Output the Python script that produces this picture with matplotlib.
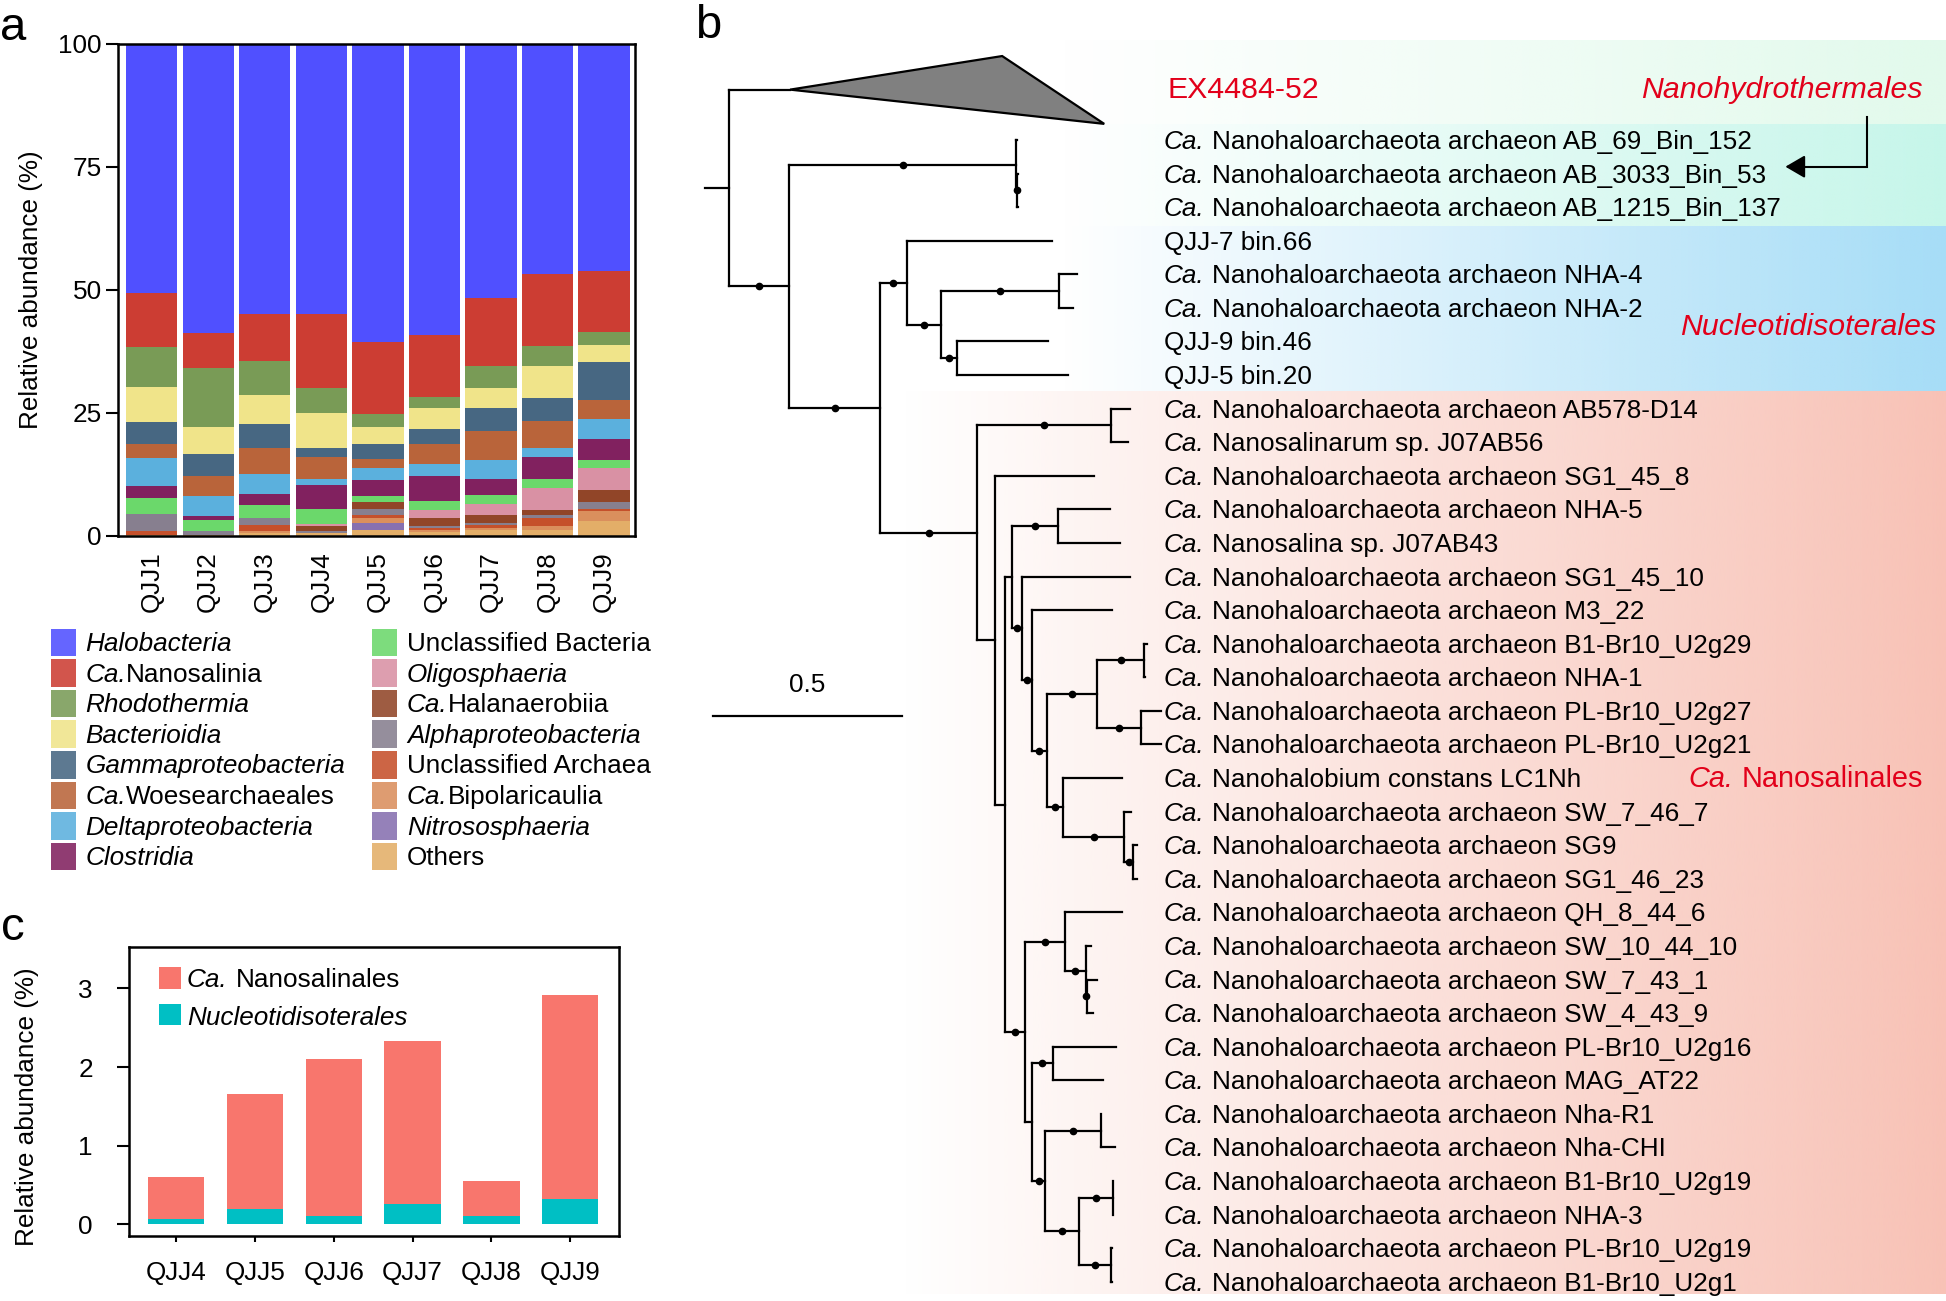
import re
import numpy as np
import matplotlib
matplotlib.use("Agg")
import matplotlib.pyplot as plt
from matplotlib.collections import LineCollection
from matplotlib.patches import Polygon, Rectangle
from matplotlib.colors import to_rgb

plt.rcParams['font.family'] = ['Liberation Sans', 'DejaVu Sans']

# ---------------------------------------------------------------- panel a data
samples_a = ["QJJ1", "QJJ2", "QJJ3", "QJJ4", "QJJ5", "QJJ6", "QJJ7", "QJJ8", "QJJ9"]
halobacteria        = [50.6, 58.9, 55.0, 54.9, 60.7, 59.3, 51.6, 46.8, 46.3]
nanosalinia         = [11.0, 7.1, 9.5, 15.1, 14.6, 12.6, 13.9, 14.6, 12.4]
rhodothermia        = [8.3, 11.9, 6.9, 4.9, 2.6, 2.1, 4.5, 4.1, 2.6]
bacterioidia        = [7.0, 5.5, 5.9, 7.1, 3.5, 4.3, 3.9, 6.6, 3.4]
gammaproteobacteria = [4.4, 4.5, 4.9, 2.0, 3.0, 3.1, 4.7, 4.6, 7.8]
woesearchaeales     = [3.0, 4.0, 5.3, 4.4, 1.9, 4.0, 6.0, 5.5, 3.8]
deltaproteobacteria = [5.6, 4.2, 4.1, 1.3, 2.4, 2.5, 3.8, 1.9, 4.0]
clostridia          = [2.5, 0.7, 2.1, 4.7, 3.2, 5.0, 3.3, 4.3, 4.3]
uncl_bacteria       = [3.2, 2.2, 2.7, 3.2, 1.3, 1.9, 1.7, 2.0, 1.7]
oligosphaeria       = [0.0, 0.0, 0.0, 0.4, 0.0, 1.6, 2.4, 4.4, 4.5]
halanaerobiia       = [0.0, 0.0, 0.0, 1.0, 1.4, 1.6, 1.6, 1.0, 2.4]
alphaproteobacteria = [3.4, 0.8, 1.4, 0.4, 1.3, 0.4, 0.4, 0.6, 1.3]
uncl_archaea        = [0.8, 0.0, 1.2, 0.0, 0.6, 0.4, 0.5, 1.6, 0.5]
bipolaricaulia      = [0.0, 0.0, 0.5, 0.0, 1.0, 0.5, 0.5, 0.8, 2.0]
nitrososphaeria     = [0.0, 0.0, 0.0, 0.0, 1.3, 0.0, 0.0, 0.0, 0.0]
others              = [0.2, 0.2, 0.5, 0.5, 1.2, 0.7, 1.1, 1.2, 3.0]

taxa = ["Halobacteria", "Ca.Nanosalinia", "Rhodothermia", "Bacterioidia",
        "Gammaproteobacteria", "Ca.Woesearchaeales", "Deltaproteobacteria", "Clostridia",
        "Unclassified Bacteria", "Oligosphaeria", "Ca.Halanaerobiia", "Alphaproteobacteria",
        "Unclassified Archaea", "Ca.Bipolaricaulia", "Nitrososphaeria", "Others"]
taxa_values = [halobacteria, nanosalinia, rhodothermia, bacterioidia,
               gammaproteobacteria, woesearchaeales, deltaproteobacteria, clostridia,
               uncl_bacteria, oligosphaeria, halanaerobiia, alphaproteobacteria,
               uncl_archaea, bipolaricaulia, nitrososphaeria, others]
taxa_colors = ["#5050FF", "#CC3D33", "#799B56", "#F0E48A",
               "#476782", "#B9643A", "#5BB0DD", "#81215F",
               "#6BD86B", "#D991A4", "#914528", "#877F8F",
               "#C5502B", "#DA8F5D", "#8770B0", "#E3AE68"]
upright_taxa = ["Unclassified Bacteria", "Unclassified Archaea", "Others"]

# ---------------------------------------------------------------- panel c data
samples_c = ["QJJ4", "QJJ5", "QJJ6", "QJJ7", "QJJ8", "QJJ9"]
nanosalinales = [0.53, 1.47, 1.99, 2.07, 0.44, 2.60]
nucleotidisoterales = [0.07, 0.19, 0.11, 0.26, 0.11, 0.32]

# ---------------------------------------------------------------- panel b data
tip_labels = [
    "Ca. Nanohaloarchaeota archaeon AB_69_Bin_152",
    "Ca. Nanohaloarchaeota archaeon AB_3033_Bin_53",
    "Ca. Nanohaloarchaeota archaeon AB_1215_Bin_137",
    "QJJ-7 bin.66",
    "Ca. Nanohaloarchaeota archaeon NHA-4",
    "Ca. Nanohaloarchaeota archaeon NHA-2",
    "QJJ-9 bin.46",
    "QJJ-5 bin.20",
    "Ca. Nanohaloarchaeota archaeon AB578-D14",
    "Ca. Nanosalinarum sp. J07AB56",
    "Ca. Nanohaloarchaeota archaeon SG1_45_8",
    "Ca. Nanohaloarchaeota archaeon NHA-5",
    "Ca. Nanosalina sp. J07AB43",
    "Ca. Nanohaloarchaeota archaeon SG1_45_10",
    "Ca. Nanohaloarchaeota archaeon M3_22",
    "Ca. Nanohaloarchaeota archaeon B1-Br10_U2g29",
    "Ca. Nanohaloarchaeota archaeon NHA-1",
    "Ca. Nanohaloarchaeota archaeon PL-Br10_U2g27",
    "Ca. Nanohaloarchaeota archaeon PL-Br10_U2g21",
    "Ca. Nanohalobium constans LC1Nh",
    "Ca. Nanohaloarchaeota archaeon SW_7_46_7",
    "Ca. Nanohaloarchaeota archaeon SG9",
    "Ca. Nanohaloarchaeota archaeon SG1_46_23",
    "Ca. Nanohaloarchaeota archaeon QH_8_44_6",
    "Ca. Nanohaloarchaeota archaeon SW_10_44_10",
    "Ca. Nanohaloarchaeota archaeon SW_7_43_1",
    "Ca. Nanohaloarchaeota archaeon SW_4_43_9",
    "Ca. Nanohaloarchaeota archaeon PL-Br10_U2g16",
    "Ca. Nanohaloarchaeota archaeon MAG_AT22",
    "Ca. Nanohaloarchaeota archaeon Nha-R1",
    "Ca. Nanohaloarchaeota archaeon Nha-CHI",
    "Ca. Nanohaloarchaeota archaeon B1-Br10_U2g19",
    "Ca. Nanohaloarchaeota archaeon NHA-3",
    "Ca. Nanohaloarchaeota archaeon PL-Br10_U2g19",
    "Ca. Nanohaloarchaeota archaeon B1-Br10_U2g1",
]
# tips are indices into tip_labels, "EX" is the collapsed EX4484-52 clade, "*" = supported node
tree_newick = (
    "(EX:0.161,"
    "((0:0.001,(1:0.001,2:0.001)*:0.003)*:0.598,"
    "((3:0.384,((4:0.047,5:0.037)*:0.310,(6:0.242,7:0.293)*:0.041)*:0.091)*:0.070,"
    "((8:0.051,9:0.046)*:0.352,"
    "(10:0.262,"
    "(((11:0.138,12:0.164)*:0.121,"
    "(13:0.284,(14:0.210,"
    "(((15:0.006,16:0.001)*:0.126,(17:0.053,18:0.053)*:0.117)*:0.132,"
    "(19:0.156,(20:0.018,(21:0.011,22:0.011)*:0.022)*:0.161)*:0.044)*:0.038"
    ")*:0.027)*:0.026):0.019,"
    "((23:0.151,(24:0.013,(25:0.026,26:0.017)*:0.003)*:0.055)*:0.105,"
    "((27:0.166,28:0.132)*:0.054,"
    "((29:0.001,30:0.037)*:0.147,((31:0.001,32:0.001)*:0.089,(33:0.001,34:0.001)*:0.086)*:0.089)*:0.034"
    "):0.019)*:0.053"
    "):0.026):0.047)*:0.256)*:0.239)*:0.159):0.0625;"
)
collapsed_depths = (0.559, 0.828)   # shallowest / deepest extent of EX4484-52
scale_bar_length = 0.5

# ---------------------------------------------------------------- figure
W, H, DPI = 1946, 1301, 100
FS = 18.8
RED = "#E2001A"
fig = plt.figure(figsize=(W / DPI, H / DPI), dpi=DPI)


def mixed(ax, x, y, parts, size, color='black'):
    first = ax.text(x, y, parts[0][0], fontsize=size, color=color,
                    fontstyle='italic' if parts[0][1] else 'normal',
                    ha='left', va='baseline')
    prev = first
    for txt, it, gap in parts[1:]:
        prev = ax.annotate(txt, xy=(1, 0), xycoords=prev, xytext=(gap * size, 0),
                           textcoords='offset points', fontsize=size, color=color,
                           fontstyle='italic' if it else 'normal',
                           ha='left', va='bottom')
    return first


def label_parts(name):
    if name.startswith("Ca. "):
        return [("Ca.", True, 0), (name[4:], False, 0.3)]
    if name.startswith("Ca."):
        return [("Ca.", True, 0), (name[3:], False, 0.0)]
    return [(name, False, 0)]


def hgrad(ax, x0, x1, y0, y1, color):
    rgb = to_rgb(color)
    arr = np.zeros((1, 256, 4))
    arr[..., 0], arr[..., 1], arr[..., 2] = rgb
    arr[..., 3] = np.linspace(0.0, 1.0, 256)
    ax.imshow(arr, extent=[x0, x1, y1, y0], aspect='auto',
              interpolation='bilinear', zorder=0)


# ---------------------------------------------------------------- panel a
axa = fig.add_axes([117.8 / W, 1 - 535.6 / H, (635 - 117.8) / W, (535.6 - 43.5) / H])
xa = np.arange(len(samples_a))
bottom = np.zeros(len(samples_a))
for vals, col in zip(taxa_values[::-1], taxa_colors[::-1]):
    vals = np.asarray(vals, float)
    axa.bar(xa, vals, 0.91, bottom=bottom, color=col, linewidth=0)
    bottom += vals
axa.set_xlim(-0.6, 8.55)
axa.set_ylim(0, 100)
axa.set_yticks([0, 25, 50, 75, 100])
axa.set_xticks(xa)
axa.set_xticklabels(samples_a, rotation=90)
axa.tick_params(axis='x', length=0, pad=11, labelsize=FS)
axa.tick_params(axis='y', length=8.5, width=1.5, pad=3, labelsize=FS)
axa.set_ylabel("Relative abundance (%)", fontsize=FS)
axa.yaxis.set_label_coords(-0.145, 0.5)
for sp in axa.spines.values():
    sp.set_linewidth(1.8)

# ---------------------------------------------------------------- panel c
axc = fig.add_axes([129 / W, 1 - 1235.7 / H, (619 - 129) / W, (1235.7 - 946.7) / H])
xc = np.arange(len(samples_c))
axc.bar(xc, nucleotidisoterales, 0.715, color="#00BFC4", linewidth=0)
axc.bar(xc, nanosalinales, 0.715, bottom=nucleotidisoterales, color="#F8766D", linewidth=0)
axc.set_xlim(-0.6, 5.62)
axc.set_ylim(-0.145, 3.53)
axc.set_yticks([0, 1, 2, 3])
axc.set_xticks(xc)
axc.set_xticklabels(samples_c)
axc.tick_params(axis='y', length=9, width=1.5, pad=17, labelsize=FS)
axc.tick_params(axis='x', length=4.3, width=1.5, pad=14, labelsize=FS)
axc.set_ylabel("Relative abundance (%)", fontsize=FS)
axc.yaxis.set_label_coords(-0.183, 0.446)
for sp in axc.spines.values():
    sp.set_linewidth(1.8)

# ---------------------------------------------------------------- overlay (pixel coords, on top)
ov = fig.add_axes([0, 0, 1, 1])
ov.set_zorder(10)
ov.set_xlim(0, W)
ov.set_ylim(H, 0)
ov.axis('off')

# background bands of panel b
hgrad(ov, 1060, W, 40, 124, "#E2FAEC")
hgrad(ov, 1060, W, 124, 226, "#C6F6EA")
hgrad(ov, 1060, W, 226, 391, "#A6DDF7")
hgrad(ov, 900, W, 391, 1294, "#F8C2B6")

# legend of panel a
col_x = [(50.7, 85.4), (372.0, 406.8)]
for i, (name, col) in enumerate(zip(taxa, taxa_colors)):
    c, r = divmod(i, 8)
    sx, tx = col_x[c]
    cy = 642.3 + r * 30.6
    ov.add_patch(Rectangle((sx, cy - 13.8), 25, 27.6, facecolor=col, edgecolor='none', alpha=0.88))
    if name in upright_taxa:
        parts = [(name, False, 0)]
    elif name.startswith("Ca."):
        parts = label_parts(name)
    else:
        parts = [(name, True, 0)]
    mixed(ov, tx, cy + 8.7, parts, FS)

# legend of panel c
ov.add_patch(Rectangle((159, 967), 21.5, 21.5, facecolor="#F8766D", edgecolor='none'))
ov.add_patch(Rectangle((159, 1003.5), 21.5, 21.5, facecolor="#00BFC4", edgecolor='none'))
mixed(ov, 187, 986.7, [("Ca.", True, 0), ("Nanosalinales", False, 0.3)], FS)
mixed(ov, 187, 1025, [("Nucleotidisoterales", True, 0)], FS)


# ---------------------------------------------------------------- panel b (tree)
def parse_newick(s):
    s = re.sub(r"\s+", "", s).rstrip(";")
    pos = 0

    def node():
        nonlocal pos
        n = {'children': [], 'name': '', 'length': 0.0}
        if s[pos] == '(':
            pos += 1
            while True:
                n['children'].append(node())
                if s[pos] == ',':
                    pos += 1
                    continue
                pos += 1  # ')'
                break
        m = re.match(r"[^:,();]*", s[pos:])
        n['name'] = m.group(0)
        pos += len(m.group(0))
        if pos < len(s) and s[pos] == ':':
            pos += 1
            m = re.match(r"[0-9.eE+-]+", s[pos:])
            n['length'] = float(m.group(0))
            pos += len(m.group(0))
        return n
    return node()


tree = parse_newick(tree_newick)
row_counter = [-2]


def layout(n, depth):
    n['x'] = depth
    if not n['children']:
        if n['name'] == 'EX':
            n['y'] = row_counter[0] + 0.5
            row_counter[0] += 2
        else:
            n['y'] = row_counter[0]
            row_counter[0] += 1
    else:
        for c in n['children']:
            layout(c, depth + c['length'])
        n['y'] = 0.5 * (n['children'][0]['y'] + n['children'][-1]['y'])


layout(tree, 0.0)

X0, SCALE, Y0, ROW = 729.0, 379.4, 140.0, 33.58


def px(d):
    return X0 + d * SCALE


def py(r):
    return Y0 + r * ROW


segs, dots = [], []
segs.append([(px(-tree['length']), py(tree['y'])), (px(0), py(tree['y']))])


def draw(n):
    if not n['children']:
        return
    segs.append([(px(n['x']), py(n['children'][0]['y'])), (px(n['x']), py(n['children'][-1]['y']))])
    for c in n['children']:
        segs.append([(px(n['x']), py(c['y'])), (px(c['x']), py(c['y']))])
        if c['name'] == '*':
            dots.append((px(0.5 * (n['x'] + c['x'])), py(c['y'])))
        if c['name'] == 'EX':
            ax_, ay_ = px(c['x']), py(c['y'])
            tri = Polygon([(ax_, ay_), (px(c['x'] + collapsed_depths[0]), py(c['y'] - 1)),
                           (px(c['x'] + collapsed_depths[1]), py(c['y'] + 1.02))],
                          closed=True, facecolor="#808080", edgecolor='black', lw=1.6, zorder=3)
            ov.add_patch(tri)
        elif not c['children']:
            idx = int(c['name'])
            mixed(ov, 1163.7, py(c['y']) + 9.0, label_parts(tip_labels[idx]), FS)
        draw(c)


draw(tree)
ov.add_collection(LineCollection(segs, colors='black', linewidths=1.6,
                                 capstyle='projecting', zorder=3))
dx, dy = zip(*dots)
ov.plot(dx, dy, 'o', color='black', ms=4.5, zorder=4)

# scale bar
ov.plot([712.7, 712.7 + scale_bar_length * SCALE], [716, 716], color='black', lw=1.6)
ov.text(712.7 + scale_bar_length * SCALE / 2, 691.7, "0.5", fontsize=FS, ha='center', va='baseline')

# clade labels
ov.text(1167.5, 98.3, "EX4484-52", fontsize=21.8, color=RED, ha='left', va='baseline')
ov.text(1923, 97.7, "Nanohydrothermales", fontsize=21.8, color=RED, fontstyle='italic',
        ha='right', va='baseline')
ov.text(1936.5, 335, "Nucleotidisoterales", fontsize=21.8, color=RED, fontstyle='italic',
        ha='right', va='baseline')
mixed(ov, 1688, 786.7, [("Ca.", True, 0), ("Nanosalinales", False, 0.3)], 20.8, color=RED)

# arrow to AB_3033_Bin_53
ov.plot([1867.4, 1867.4, 1795], [116.7, 166.7, 166.7], color='black', lw=1.5, solid_joinstyle='miter')
ov.annotate("", xy=(1785.4, 166.7), xytext=(1800, 166.7),
            arrowprops=dict(arrowstyle='-|>,head_length=0.6,head_width=0.35',
                            color='black', lw=1.5, mutation_scale=20, shrinkA=0, shrinkB=0))

# panel letters
ov.text(0, 40, "a", fontsize=34, ha='left', va='baseline')
ov.text(695, 38.3, "b", fontsize=34, ha='left', va='baseline')
ov.text(1, 940, "c", fontsize=34, ha='left', va='baseline')

ov.set_xlim(0, W)
ov.set_ylim(H, 0)
fig.savefig("out.png", dpi=DPI)
